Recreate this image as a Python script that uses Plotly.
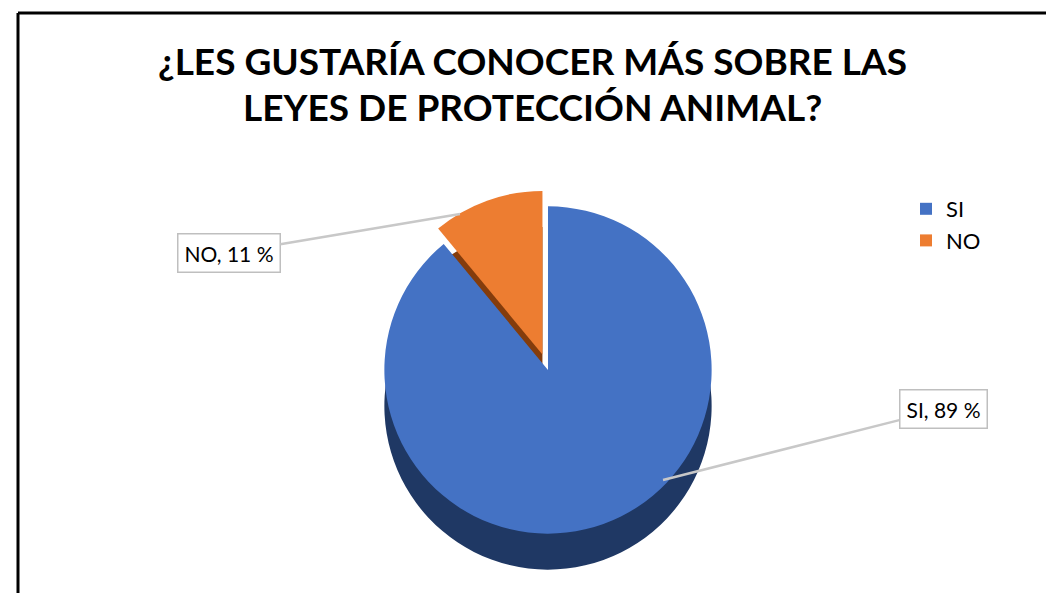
import plotly.graph_objects as go

# Data
categories = ["SI", "NO"]
values = [89, 11]
colors_top = ["#4472C4", "#ED7D31"]
colors_side = ["#1F3864", "#843C0C"]
title_lines = ["¿LES GUSTARÍA CONOCER MÁS SOBRE LAS", "LEYES DE PROTECCIÓN ANIMAL?"]

W, H = 1054, 593
FONT = "Lato"

def px(x):
    return x / W

def py(y):
    return 1 - y / H

# pie geometry (pixels)
cx, cy, r = 540, 362, 180
depth = 36
pulls = [0, 0.1]

def dom(cx, cy, r):
    return dict(x=[px(cx - r), px(cx + r)], y=[py(cy + r), py(cy - r)])

fig = go.Figure()

# side (depth) layer
fig.add_trace(go.Pie(
    labels=categories, values=values, sort=False, direction="clockwise",
    pull=pulls, marker=dict(colors=colors_side, line=dict(width=0)),
    textinfo="none", hoverinfo="skip", showlegend=False,
    domain=dom(cx, cy + depth, r),
))

# top face
fig.add_trace(go.Pie(
    labels=categories, values=values, sort=False, direction="clockwise",
    pull=pulls, marker=dict(colors=colors_top, line=dict(width=0)),
    textinfo="none", showlegend=True,
    domain=dom(cx, cy, r),
))

annotations = []
for i, line in enumerate(title_lines):
    annotations.append(dict(
        text="<b>" + line + "</b>", x=px(524), y=py(53 + i * 46),
        xref="paper", yref="paper", showarrow=False,
        font=dict(family=FONT, size=37, color="#000000"),
        xanchor="center", yanchor="middle",
    ))

label_specs = [
    # text, box centre (px), leader tip (px)
    (f"{categories[1]}, {values[1]} %", (221, 245), (452, 206)),
    (f"{categories[0]}, {values[0]} %", (935, 401), (655, 472)),
]
for text, (bx, by), (tx, ty) in label_specs:
    annotations.append(dict(
        text=text, x=px(tx), y=py(ty), xref="paper", yref="paper",
        ax=bx - tx, ay=by - ty, axref="pixel", ayref="pixel",
        showarrow=True, arrowhead=0, arrowwidth=2.5, arrowcolor="#C8C8C8",
        bordercolor="#BFBFBF", borderwidth=1.5, borderpad=6, bgcolor="#FFFFFF",
        font=dict(family=FONT, size=21, color="#000000"),
    ))

fig.update_layout(
    width=W, height=H,
    margin=dict(l=0, r=0, t=0, b=0),
    paper_bgcolor="#FFFFFF", plot_bgcolor="#FFFFFF",
    showlegend=True,
    legend=dict(x=px(898), y=py(180), xanchor="left", yanchor="top",
                font=dict(family=FONT, size=22, color="#000000"),
                itemwidth=30, tracegroupgap=0, bgcolor="rgba(0,0,0,0)"),
    annotations=annotations,
    shapes=[
        dict(type="line", xref="paper", yref="paper", x0=px(10), x1=1, y0=py(5), y1=py(5),
             line=dict(color="#000000", width=3)),
        dict(type="line", xref="paper", yref="paper", x0=px(10), x1=px(10), y0=py(5), y1=0,
             line=dict(color="#000000", width=3)),
    ],
)

fig.write_html("out.html")
